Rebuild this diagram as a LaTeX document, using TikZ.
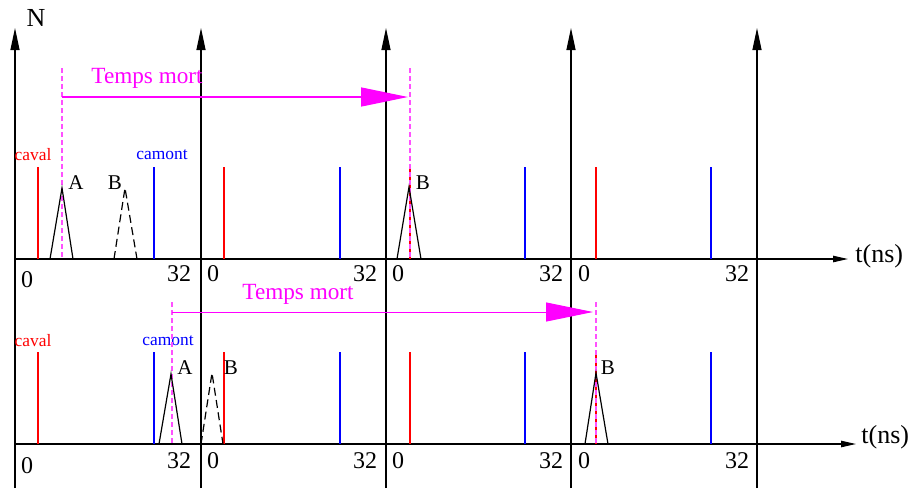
\documentclass[tikz,border=0pt]{standalone}
\usepackage{fontspec}
\setmainfont{Liberation Serif}
\usetikzlibrary{arrows.meta}
\definecolor{mag}{RGB}{255,0,255}
\definecolor{magl}{RGB}{255,80,255}
\definecolor{rd}{RGB}{255,0,0}
\definecolor{bl}{RGB}{0,0,255}
\begin{document}
\begin{tikzpicture}[x=0.5pt,y=-0.5pt,
  axisline/.style={line width=0.6pt, black},
  vax/.style={axisline, -{Triangle[length=11pt,width=4.5pt]}},
  hax/.style={axisline, -{Triangle[length=7.5pt,width=3.2pt]}},
  cav/.style={rd, line width=0.7pt},
  cam/.style={bl, line width=0.7pt},
  mdash/.style={magl, line width=0.7pt, dash pattern=on 2.6pt off 1.4pt},
  marrow/.style={mag, line width=0.7pt, -{Triangle[length=23.5pt,width=9.5pt]}},
  pulse/.style={black, line width=0.6pt, line join=miter},
  ghost/.style={pulse, dash pattern=on 4pt off 2.2pt},
  num/.style={inner sep=0pt, font=\fontsize{12}{14}\selectfont},
  big/.style={inner sep=0pt, font=\fontsize{13}{15}\selectfont},
  pl/.style={inner sep=0pt, font=\fontsize{10.5}{12}\selectfont},
  tm/.style={inner sep=0pt, mag, font=\fontsize{11.6}{13}\selectfont},
  small/.style={inner sep=0pt, font=\fontsize{8.7}{10}\selectfont}
]
\useasboundingbox (0,0) rectangle (917,488);

% vertical axes
\coordinate (v0b) at (15,488);  \coordinate (v0t) at (15,28);
\coordinate (v1b) at (201,488); \coordinate (v1t) at (201,28);
\coordinate (v2b) at (386,488); \coordinate (v2t) at (386,28);
\coordinate (v3b) at (571,488); \coordinate (v3t) at (571,28);
\coordinate (v4b) at (757,488); \coordinate (v4t) at (757,28);
\foreach \i in {0,...,4} { \draw[vax] (v\i b) -- (v\i t); }

% horizontal axes
\coordinate (h1s) at (15,259); \coordinate (h1e) at (848,259);
\coordinate (h2s) at (15,444); \coordinate (h2e) at (856,444);
\draw[hax] (h1s) -- (h1e);
\draw[hax] (h2s) -- (h2e);

\node[big] (N) at (36,18) {N};
\node[big, anchor=west] (t1) at (855,256) {t(ns)};
\node[big, anchor=west] (t2) at (861,437) {t(ns)};

% tick labels, top
\node[num] (a0) at (27,280) {0};
\node[num] (a32) at (179,274) {32};
\node[num] (b0) at (213,274) {0};
\node[num] (b32) at (365,274) {32};
\node[num] (c0) at (398,274) {0};
\node[num] (c32) at (551,274) {32};
\node[num] (d0) at (584,274) {0};
\node[num] (d32) at (737,274) {32};
% tick labels, bottom
\node[num] (e0) at (27,466) {0};
\node[num] (e32) at (179,461) {32};
\node[num] (f0) at (213,461) {0};
\node[num] (f32) at (365,461) {32};
\node[num] (g0) at (398,461) {0};
\node[num] (g32) at (551,461) {32};
\node[num] (h0) at (584,461) {0};
\node[num] (h32) at (737,461) {32};

% caval / camont lines, top
\foreach \x in {38,224,410,596} { \draw[cav] (\x,167) -- (\x,259); }
\foreach \x in {154,340,525,711} { \draw[cam] (\x,167) -- (\x,259); }
% caval / camont lines, bottom
\foreach \x in {38,224,410,596} { \draw[cav] (\x,352) -- (\x,444); }
\foreach \x in {154,340,525,711} { \draw[cam] (\x,352) -- (\x,444); }

\node[small, rd] (cv1) at (33,155) {caval};
\node[small, bl] (cm1) at (162,155) {camont};
\node[small, rd] (cv2) at (33,341) {caval};
\node[small, bl] (cm2) at (168,341) {camont};

% top panel
\draw[mdash] (62,68) -- (62,259);
\draw[mdash] (410,68) -- (410,259);
\coordinate (m1s) at (62,97); \coordinate (m1e) at (408,97);
\draw[marrow] (m1s) -- (m1e);
\node[tm] (tm1) at (147,78) {Temps mort};
\draw[pulse] (50,259) -- (62,188) -- (73,259);
\node[pl] (A1) at (76,183) {A};
\draw[ghost] (114,259) -- (125,188) -- (137,259);
\node[pl] (B1) at (115,183) {B};
\draw[pulse] (397,259) -- (409,187) -- (421,259);
\node[pl] (B2) at (423,183) {B};

% bottom panel
\draw[mdash] (172,302) -- (172,444);
\draw[mdash] (596,302) -- (596,444);
\coordinate (m2s) at (172,312); \coordinate (m2e) at (593,312);
\draw[marrow, line width=0.5pt] (m2s) -- (m2e);
\node[tm] (tm2) at (298,294) {Temps mort};
\draw[pulse] (159,444) -- (171,374) -- (182,444);
\node[pl] (A2) at (185,368) {A};
\draw[ghost] (201,444) -- (212,373) -- (223,444);
\node[pl] (B3) at (231,368) {B};
\draw[pulse] (585,444) -- (596,373) -- (608,444);
\node[pl] (B4) at (608,368) {B};
\end{tikzpicture}
\end{document}
